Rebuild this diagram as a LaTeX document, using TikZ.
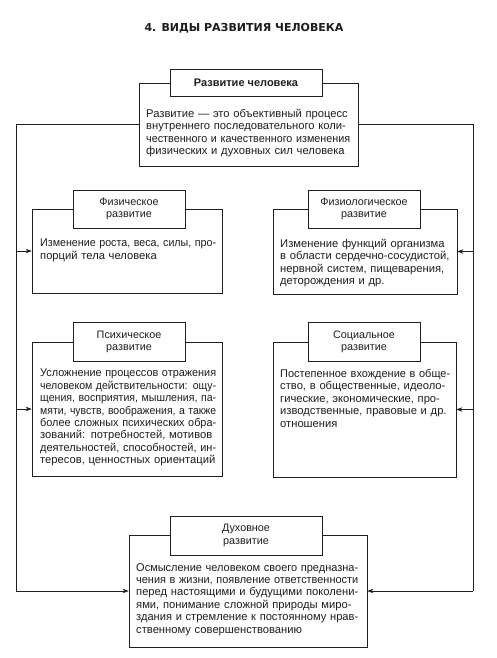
\documentclass[tikz,border=0pt]{standalone}
\usepackage{fontspec}
\setmainfont{Liberation Sans}
\newfontfamily\titlefont{DejaVu Sans}
\usetikzlibrary{arrows.meta}
\definecolor{ink}{RGB}{30,30,30}
\hyphenpenalty=10000
\exhyphenpenalty=10000
\newsavebox\lnbox
\newcommand\fl[1]{\sbox\lnbox{#1}\ifdim\wd\lnbox>\linewidth\resizebox{\linewidth}{\height}{\usebox\lnbox}\else\makebox[\linewidth][s]{#1}\fi}
\newcommand\lastln[1]{\sbox\lnbox{#1}\ifdim\wd\lnbox>\linewidth\resizebox{\linewidth}{\height}{\usebox\lnbox}\else\usebox\lnbox\fi}
\begin{document}
\begin{tikzpicture}[x=1pt,y=-1pt,
  outerbox/.style={draw=ink, line width=0.7pt, inner sep=0pt},
  headbox/.style={draw=ink, fill=white, line width=1pt, inner sep=0pt, align=center, text=ink,
    font=\fontsize{10.8}{12.4}\selectfont},
  bodytext/.style={anchor=north west, inner sep=0pt, align=left, text=ink,
    font=\fontsize{11.2}{12.4}\selectfont},
  link/.style={draw=ink, line width=0.7pt},
  arr/.style={link, -{Stealth[length=6pt,width=4.5pt]}}
]
\useasboundingbox (0,0) rectangle (497,658);
\fill[white] (0,0) rectangle (497,658);

\node[text=ink, font=\titlefont\fontsize{11}{14}\selectfont\bfseries] (title) at (244,28) {4. ВИДЫ РАЗВИТИЯ ЧЕЛОВЕКА};

% top
\node[outerbox, minimum width=219pt, minimum height=83pt] (top) at (248.5,124.5) {};
\node[headbox, minimum width=152pt, minimum height=27pt, font=\fontsize{11}{12.4}\selectfont\bfseries] (toph) at (246,83) {Развитие человека};
\node[bodytext, text width=204pt] (topt) at (146,109) {\fl{Развитие — это объективный процесс}\\
\fl{внутреннего последовательного коли-}\\
\fl{чественного и качественного изменения}\\
\lastln{физических и духовных сил человека}};

% physical
\node[outerbox, minimum width=190pt, minimum height=84pt] (phys) at (127,251) {};
\node[headbox, minimum width=112pt, minimum height=38pt] (physh) at (129,209) {Физическое\\развитие};
\node[bodytext, text width=176pt] (physt) at (40,239) {\fl{Изменение роста, веса, силы, про-}\\
\lastln{порций тела человека}};

% physiological
\node[outerbox, minimum width=184pt, minimum height=85pt] (fiz) at (365,251.5) {};
\node[headbox, minimum width=112pt, minimum height=38pt] (fizh) at (364,209) {Физиологическое\\развитие};
\node[bodytext, text width=170pt] (fizt) at (280,239) {\fl{Изменение функций организма}\\
\fl{в области сердечно-сосудистой,}\\
\fl{нервной систем, пищеварения,}\\
\lastln{деторождения и др.}};

% psychic
\node[outerbox, minimum width=190pt, minimum height=134pt] (psy) at (127,409) {};
\node[headbox, minimum width=112pt, minimum height=39pt] (psyh) at (129,342) {Психическое\\развитие};
\node[bodytext, text width=176pt] (psyt) at (40,369) {\fl{Усложнение процессов отражения}\\
\fl{человеком действительности: ощу-}\\
\fl{щения, восприятия, мышления, па-}\\
\fl{мяти, чувств, воображения, а также}\\
\fl{более сложных психических обра-}\\
\fl{зований: потребностей, мотивов}\\
\fl{деятельностей, способностей, ин-}\\
\lastln{тересов, ценностных ориентаций}};

% social
\node[outerbox, minimum width=183pt, minimum height=135pt] (soc) at (364.5,409.5) {};
\node[headbox, minimum width=112pt, minimum height=39pt] (soch) at (364,342) {Социальное\\развитие};
\node[bodytext, text width=170pt] (soct) at (280,369) {\fl{Постепенное вхождение в обще-}\\
\fl{ство, в общественные, идеоло-}\\
\fl{гические, экономические, про-}\\
\fl{изводственные, правовые и др.}\\
\lastln{отношения}};

% spiritual
\node[outerbox, minimum width=238pt, minimum height=112pt] (spir) at (248,591) {};
\node[headbox, minimum width=152pt, minimum height=39pt] (spirh) at (246,535.5) {Духовное\\развитие};
\node[bodytext, text width=222pt] (spirt) at (136,563) {\fl{Осмысление человеком своего предназна-}\\
\fl{чения в жизни, появление ответственности}\\
\fl{перед настоящими и будущими поколени-}\\
\fl{ями, понимание сложной природы миро-}\\
\fl{здания и стремление к постоянному нрав-}\\
\lastln{ственному совершенствованию}};

% connectors
\coordinate (lx) at (16,0);
\coordinate (rx) at (473,0);
\draw[link] (top.west) -- (top.west -| lx) -- (spir.west -| lx);
\draw[link] (top.east) -- (top.east -| rx) -- (spir.east -| rx);
\draw[arr] (spir.west -| lx) -- (spir.west);
\draw[arr] (spir.east -| rx) -- (spir.east);
\draw[arr] (phys.west -| lx) -- (phys.west);
\draw[arr] (psy.west -| lx) -- (psy.west);
\draw[arr] (fiz.east -| rx) -- (fiz.east);
\draw[arr] (soc.east -| rx) -- (soc.east);
\end{tikzpicture}
\end{document}
